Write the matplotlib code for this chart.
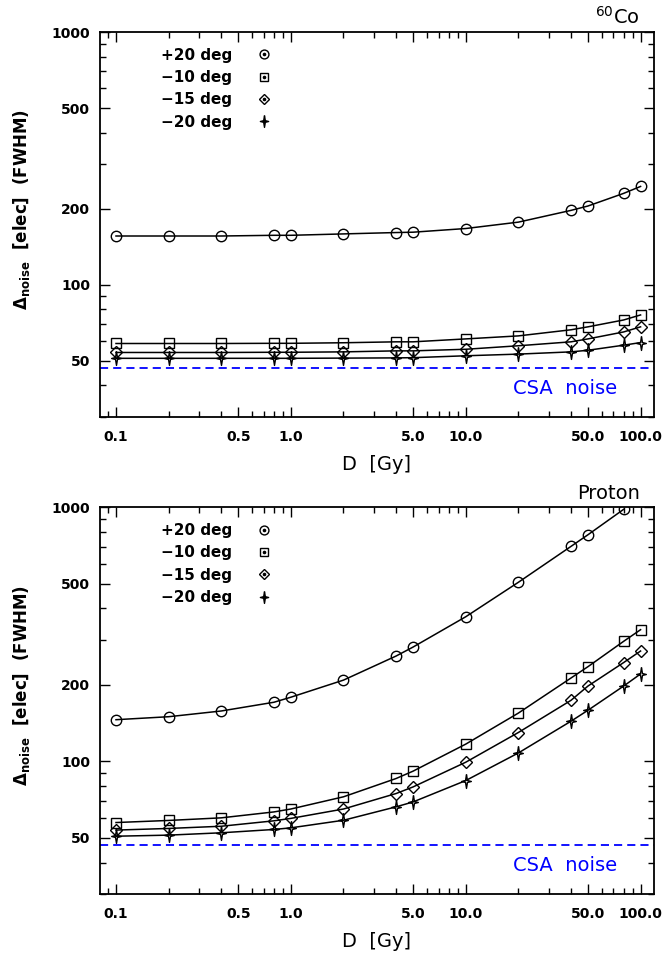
import numpy as np
import matplotlib
matplotlib.use("Agg")
import matplotlib.pyplot as plt
from matplotlib.lines import Line2D
from matplotlib.legend_handler import HandlerTuple
from matplotlib.ticker import FixedLocator, NullFormatter

######################################
## Data ##############################
######################################
dose = [0.1, 0.2, 0.4, 0.8, 1.0, 2.0, 4.0, 5.0, 10.0, 20.0, 40.0, 50.0, 80.0, 100.0]
labels = ["+20 deg", "\u221210 deg", "\u221215 deg", "\u221220 deg"]

# 60Co irradiation
co_p20 = [156, 156, 156, 157, 157, 159, 161, 161.5, 167, 177, 197, 205, 230, 245]
co_m10 = [58.6, 58.6, 58.6, 58.7, 58.7, 59.0, 59.5, 59.5, 61.1, 62.8, 66.4, 68.2, 72.6, 76.0]
co_m15 = [54.0, 54.0, 54.0, 54.1, 54.1, 54.3, 54.8, 54.8, 55.6, 57.4, 59.5, 61.1, 65.1, 68.2]
co_m20 = [51.2, 51.2, 51.2, 51.2, 51.2, 51.3, 51.4, 51.5, 52.4, 53.2, 54.3, 55.1, 57.7, 59.1]

# proton irradiation (the +20 deg point at 100 Gy is off scale)
pr_dose_p20 = [0.1, 0.2, 0.4, 0.8, 1.0, 2.0, 4.0, 5.0, 10.0, 20.0, 40.0, 50.0, 80.0]
pr_p20 = [146, 150, 158, 171, 179, 209, 260, 282, 371, 507, 702, 780, 982]
pr_m10 = [57.5, 58.6, 60.0, 63.3, 65.0, 72.6, 85.7, 91.6, 117, 155, 213, 236, 297, 330]
pr_m15 = [53.7, 54.5, 55.6, 58.4, 59.7, 65.0, 74.8, 79.4, 99.3, 130, 174, 198, 245, 272]
pr_m20 = [50.8, 51.3, 52.4, 54.0, 54.8, 58.7, 66.3, 69.3, 84.1, 108, 144, 159, 198, 221]

csa_noise = 47.0

xticks = [0.1, 0.5, 1.0, 5.0, 10.0, 50.0, 100.0]
xticklabels = ["0.1", "0.5", "1.0", "5.0", "10.0", "50.0", "100.0"]
yticks = [50, 100, 200, 500, 1000]
yticklabels = ["50", "100", "200", "500", "1000"]

######################################
## Plot ##############################
######################################
plt.rcParams['font.family'] = ['DejaVu Sans']
plt.rcParams['mathtext.fontset'] = 'dejavusans'
fig = plt.figure(figsize=(6.64, 9.56), dpi=100)

# thin four-pointed star (IDL style)
star = [(0, 1), (0.14, 0.14), (0.7, 0), (0.14, -0.14), (0, -1),
        (-0.14, -0.14), (-0.7, 0), (-0.14, 0.14), (0, 1)]
markers = ['o', 's', 'D', star]
msizes = [7.5, 6.8, 6.0, 10]


def panel(ax, xs, ys, title):
    for x, y, m, ms in zip(xs, ys, markers, msizes):
        ax.plot(x, y, color='black', lw=1.1, marker=m, ms=ms, mfc='none',
                mec='black', mew=1.0)
    ax.axhline(csa_noise, color='blue', ls=(0, (4.5, 2.8)), lw=1.3)
    ax.text(0.933, 0.075, "CSA  noise", color='blue', fontsize=14,
            transform=ax.transAxes, ha='right', va='center')
    ax.set_xscale('log')
    ax.set_yscale('log')
    ax.set_xlim(0.081, 119)
    ax.set_ylim(30, 1000)
    ax.xaxis.set_major_locator(FixedLocator(xticks))
    ax.set_xticklabels(xticklabels, fontweight='bold', fontsize=10)
    minx = [k * 10.0**e for e in range(-2, 3) for k in range(1, 10)]
    minx = [v for v in minx if not any(abs(v - t) < 1e-9 for t in xticks)]
    ax.xaxis.set_minor_locator(FixedLocator(minx))
    ax.xaxis.set_minor_formatter(NullFormatter())
    ax.yaxis.set_major_locator(FixedLocator(yticks))
    ax.set_yticklabels(yticklabels, fontweight='bold', fontsize=10)
    miny = [k * 10.0**e for e in range(1, 4) for k in range(1, 10)]
    miny = [v for v in miny if not any(abs(v - t) < 1e-9 for t in yticks)]
    ax.yaxis.set_minor_locator(FixedLocator(miny))
    ax.yaxis.set_minor_formatter(NullFormatter())
    ax.tick_params(which='both', direction='in', top=True, right=True, width=1.0)
    ax.tick_params(which='major', length=7)
    ax.tick_params(axis='x', which='major', pad=9)
    ax.tick_params(axis='y', which='major', pad=7)
    ax.tick_params(which='minor', length=4)
    for s in ax.spines.values():
        s.set_linewidth(1.3)
    ax.set_xlabel("D  [Gy]", fontsize=14, labelpad=8)
    ax.set_ylabel(r"$\mathbf{\Delta_{noise}}$  [elec]  (FWHM)", fontsize=12,
                  fontweight='bold')
    ax.yaxis.set_label_coords(-0.122, 0.54)
    ax.text(0.975, 1.012, title, transform=ax.transAxes, ha='right',
            va='bottom', fontsize=14)
    handles = []
    for m, ms in zip(markers, msizes):
        h1 = Line2D([], [], ls='none', marker=m, ms=ms * 0.85, mfc='none',
                    mec='black', mew=1.0)
        h2 = Line2D([], [], ls='none', marker='o', ms=1.6, mfc='black', mec='black')
        handles.append((h1, h2))
    ax.legend(handles, labels, handler_map={tuple: HandlerTuple(ndivide=1)},
              markerfirst=False, frameon=False, loc='upper left',
              bbox_to_anchor=(0.085, 0.995), labelspacing=0.48,
              handlelength=1.2, handletextpad=1.5,
              prop={'weight': 'bold', 'size': 11})


ax1 = fig.add_axes([0.1506, 0.5638, 0.834, 0.4027])
panel(ax1, [dose, dose, dose, dose], [co_p20, co_m10, co_m15, co_m20],
      r"$^{60}$Co")

ax2 = fig.add_axes([0.1506, 0.0645, 0.834, 0.4048])
panel(ax2, [pr_dose_p20, dose, dose, dose], [pr_p20, pr_m10, pr_m15, pr_m20],
      "Proton")

fig.savefig("out.png", dpi=100)
